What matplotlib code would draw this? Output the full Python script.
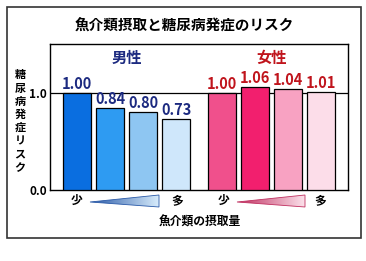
import numpy as np
import matplotlib
matplotlib.use("Agg")
import matplotlib.pyplot as plt
from matplotlib.patches import Polygon, Rectangle
from matplotlib.colors import LinearSegmentedColormap

plt.rcParams['font.family'] = ['Noto Sans CJK JP', 'DejaVu Sans']

title = "魚介類摂取と糖尿病発症のリスク"
ylabel = "糖尿病発症リスク"
xlabel = "魚介類の摂取量"
groups = ["男性", "女性"]
men_values = [1.00, 0.84, 0.80, 0.73]
women_values = [1.00, 1.06, 1.04, 1.01]
men_colors = ["#0a6ee0", "#2e9bf2", "#8ec6f2", "#cfe7fb"]
women_colors = ["#f0508c", "#f21f6e", "#f8a2c2", "#fcdde9"]
yticks = [0.0, 1.0]
ytick_labels = ["0.0", "1.0"]
low_high = ["少", "多"]

W, H = 366, 261
fig = plt.figure(figsize=(W / 100, H / 100), dpi=100)

ov = fig.add_axes([0, 0, 1, 1])
ov.set_xlim(0, W)
ov.set_ylim(H, 0)
ov.axis('off')
ov.add_patch(Rectangle((7, 7), 354, 231, fill=False, ec='#333333', lw=1.2))
ov.text(184, 26, title, ha='center', va='center', fontsize=10.5, fontweight='bold')

ax = fig.add_axes([50 / W, (H - 190) / H, 298 / W, 146 / H])
men_x = np.arange(4)
women_x = np.arange(4) + 4.38
bw = 0.85
ax.bar(men_x, men_values, width=bw, color=men_colors, edgecolor='black', linewidth=0.9, zorder=3)
ax.bar(women_x, women_values, width=bw, color=women_colors, edgecolor='black', linewidth=0.9, zorder=3)
ax.axhline(1.0, color='black', lw=0.9, zorder=2)
for x, v in zip(men_x, men_values):
    ax.text(x, v + 0.01, f"{v:.2f}", ha='center', va='bottom', fontsize=10.5,
            fontweight='bold', color='#1c2a80', zorder=4)
for x, v in zip(women_x, women_values):
    ax.text(x, v + 0.01, f"{v:.2f}", ha='center', va='bottom', fontsize=10.5,
            fontweight='bold', color='#c0141c', zorder=4)
ax.set_xlim(-0.82, 8.21)
ax.set_ylim(0, 1.5)
ax.set_xticks([])
ax.set_yticks(yticks)
ax.set_yticklabels(ytick_labels, fontsize=8.5, fontweight='bold')
ax.tick_params(axis='y', length=0, pad=2)
for s in ax.spines.values():
    s.set_linewidth(1.0)
ax.text(np.mean(men_x), 1.36, groups[0], ha='center', va='center', fontsize=11,
        fontweight='bold', color='#1c2a80')
ax.text(np.mean(women_x), 1.36, groups[1], ha='center', va='center', fontsize=11,
        fontweight='bold', color='#c0141c')

ov.text(20, 121, "\n".join(ylabel), ha='center', va='center', fontsize=8,
        fontweight='bold', linespacing=1.02)

def wedge(x0, x1, c0, c1):
    cmap = LinearSegmentedColormap.from_list('w', [c0, c1])
    grad = np.linspace(0, 1, 100).reshape(1, -1)
    im = ov.imshow(grad, cmap=cmap, extent=(x0, x1, 208, 194), aspect='auto', zorder=2)
    poly = Polygon([(x0, 202), (x1, 195), (x1, 207), (x0, 202)], closed=True,
                   fc='none', ec=c0, lw=0.6, zorder=3)
    ov.add_patch(poly)
    im.set_clip_path(poly)

for xs, xe, xw0, xw1, c0, c1 in [(77, 177, 90, 159, '#2a5aa8', '#d6ebfb'),
                                 (224, 320, 237, 305, '#c03060', '#fbe0ea')]:
    ov.text(xs, 200, low_high[0], ha='center', va='center', fontsize=8.5, fontweight='bold')
    ov.text(xe, 201, low_high[1], ha='center', va='center', fontsize=8.5, fontweight='bold')
    wedge(xw0, xw1, c0, c1)
ov.set_xlim(0, W)
ov.set_ylim(H, 0)

ov.text(200, 222, xlabel, ha='center', va='center', fontsize=8.5, fontweight='bold')

fig.savefig("out.png", dpi=100)
